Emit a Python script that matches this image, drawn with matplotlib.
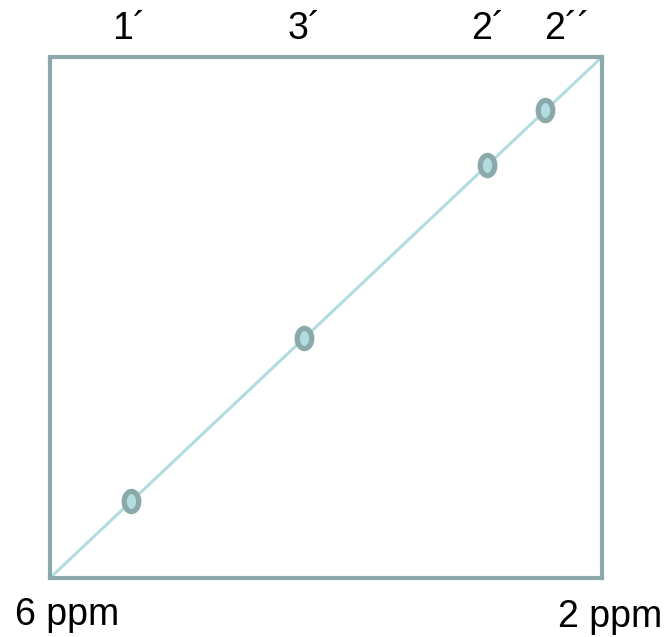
"""
plot.py - schematic diagonal of a 2D NMR (COSY-style) spectrum with the
four cross-peaks labelled along the top axis.
"""
import matplotlib
matplotlib.use("Agg")
import matplotlib.pyplot as plt
import numpy as np
from matplotlib.path import Path

plt.rcParams["font.family"] = ["Liberation Sans", "DejaVu Sans"]

# chemical shift window (ppm), high field on the right
ppm_range = [6.0, 2.0]
range_labels = ["6 ppm", "2 ppm"]

# diagonal peaks (ppm), same on both axes
peak_ppm = [5.41, 4.16, 2.83, 2.41]

# proton labels along the top and where they sit (ppm)
top_labels = ["1\u00b4", "3\u00b4", "2\u00b4", "2\u00b4\u00b4"]
top_label_ppm = [5.43, 4.16, 2.83, 2.25]

BOX = "#8BA8AA"
DIAG = "#B2DDE0"

W, H = 667, 637
fig = plt.figure(figsize=(W / 100, H / 100), dpi=100)
ax = fig.add_axes([50 / W, 59 / H, 552 / W, 521 / H])
ax.set_xlim(ppm_range)
ax.set_ylim(ppm_range)
ax.set_xticks([])
ax.set_yticks([])
for sp in ax.spines.values():
    sp.set_color(BOX)
    sp.set_linewidth(3.0)
    sp.set_zorder(5)

# diagonal
ax.plot(ppm_range, ppm_range, color=DIAG, lw=2.2, solid_capstyle="butt",
        zorder=2, clip_on=False)

# elliptical peak markers (a bit taller than wide)
t = np.linspace(0, 2 * np.pi, 64)
ell = Path(np.column_stack([0.72 * np.cos(t), np.sin(t)]), closed=True)
ax.plot(peak_ppm, peak_ppm, ls="none", marker=ell, ms=14.5,
        mfc=DIAG, mec=BOX, mew=3.8, zorder=4)

# labels above the box
trans = ax.get_xaxis_transform()
for lab, x in zip(top_labels, top_label_ppm):
    ax.text(x, 1 + 18 / 521, lab, transform=trans, ha="center",
            va="baseline", fontsize=27, color="black")

# ppm range labels below the corners
fig.text(15 / W, 1 - 625 / H, range_labels[0], ha="left", va="baseline",
         fontsize=27, color="black")
fig.text(662 / W, 1 - 627 / H, range_labels[1], ha="right", va="baseline",
         fontsize=27, color="black")

fig.savefig("out.png", dpi=100, facecolor="white")
